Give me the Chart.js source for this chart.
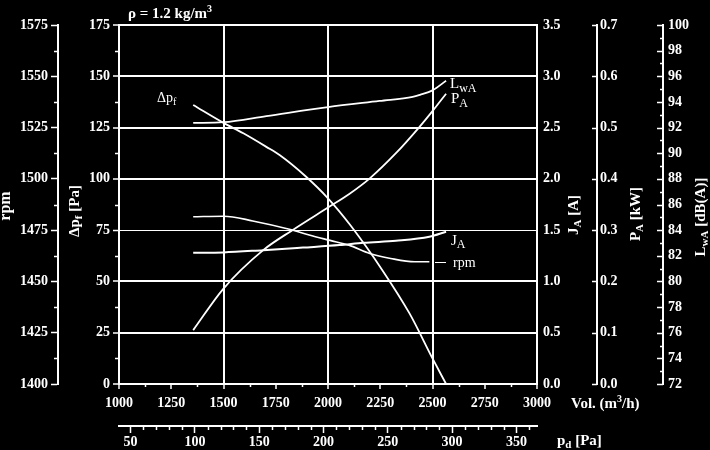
<!DOCTYPE html>
<html><head><meta charset="utf-8">
<script src="https://cdn.jsdelivr.net/npm/chart.js@4/dist/chart.umd.min.js"></script>
<style>html,body{margin:0;padding:0;background:#000;}canvas{display:block;}</style>
</head><body>
<canvas id="c" width="710" height="450"></canvas>
<script>
// ---- data (x = volume flow m3/h) ----
const dpVol   = [1355, 1500, 1595, 1705, 1770, 1890, 2000, 2110, 2260, 2390, 2500, 2565];
const dpVals  = [136, 127.3, 122.2, 115.6, 111.5, 101.5, 90.5, 77, 55.5, 34.4, 12.5, 0];
const lwVol   = [1355, 1500, 1705, 2000, 2246, 2405, 2440, 2500, 2565];
const lwVals  = [92.36, 92.42, 92.9, 93.6, 94.08, 94.39, 94.55, 94.9, 95.65];
const paVol   = [1355, 1500, 1690, 1830, 2000, 2100, 2200, 2325, 2435, 2500, 2565];
const paVals  = [0.105, 0.186, 0.261, 0.300, 0.344, 0.370, 0.401, 0.450, 0.500, 0.532, 0.566];
const jaVol   = [1355, 1500, 1690, 1880, 2055, 2170, 2325, 2485, 2565];
const jaVals  = [1.28, 1.283, 1.305, 1.33, 1.354, 1.377, 1.396, 1.435, 1.484];
const rpmVol  = [1355, 1500, 1640, 1820, 1910, 2010, 2100, 2200, 2300, 2415, 2485];
const rpmVals = [1481.5, 1481.8, 1479.5, 1475.3, 1472.6, 1470, 1467.7, 1463.6, 1461.2, 1459.6, 1459.6];

// ---- tick values ----
const pdTicks      = [50, 100, 150, 200, 250, 300, 350];
const pdMinor      = [60,70,80,90,110,120,130,140,160,170,180,190,210,220,230,240,260,270,280,290,310,320,330,340,360];
const volMinor     = [1125, 1375, 1625, 1875, 2125, 2375, 2625, 2875];
const rpmMinor     = [1412.5, 1437.5, 1462.5, 1487.5, 1512.5, 1537.5, 1562.5];
const dpMinor      = [12.5, 37.5, 62.5, 87.5, 112.5, 137.5, 162.5];
const paMajor      = [0, 0.1, 0.2, 0.3, 0.4, 0.5, 0.6, 0.7];
const lwMajor      = [72,74,76,78,80,82,84,86,88,90,92,94,96,98,100];
const lwMinor      = [73,75,77,79,81,83,85,87,89,91,93,95,97,99];

const FONT = '"Liberation Serif", "Times New Roman", serif';
const W = '#ffffff';
const tickFont = {family: FONT, size: 14, weight: 'bold'};
const pts = (xs, ys) => xs.map((x, i) => ({x: x, y: ys[i]}));

function runs(ctx, list, x, y, align) {
  let w = 0;
  list.forEach(r => { ctx.font = (r.b ? 'bold ' : '') + r.s + 'px ' + FONT; r.w = ctx.measureText(r.t).width; w += r.w; });
  let cx = align === 'center' ? x - w / 2 : x;
  list.forEach(r => { ctx.font = (r.b ? 'bold ' : '') + r.s + 'px ' + FONT; ctx.fillText(r.t, cx, y + (r.dy || 0)); cx += r.w; });
}
function vrun(ctx, list, bx, cy) {
  ctx.save(); ctx.translate(bx, cy); ctx.rotate(-Math.PI / 2);
  runs(ctx, list, 0, 0, 'center'); ctx.restore();
}

const deco = {
  id: 'deco',
  beforeDraw(chart) {
    const c = chart.ctx; c.save(); c.fillStyle = '#000'; c.fillRect(0, 0, chart.width, chart.height); c.restore();
  },
  afterDraw(chart) {
    const c = chart.ctx, S = chart.scales;
    c.save();
    c.strokeStyle = W; c.lineWidth = 1.5;
    const hTicks = (s, vals, x0, len) => vals.forEach(v => { const y = Math.round(s.getPixelForValue(v)) + 0.5; c.beginPath(); c.moveTo(x0, y); c.lineTo(x0 - len, y); c.stroke(); });
    const vTicks = (s, vals, y0, len) => vals.forEach(v => { const x = Math.round(s.getPixelForValue(v)) + 0.5; c.beginPath(); c.moveTo(x, y0); c.lineTo(x, y0 + len); c.stroke(); });
    hTicks(S.rpm, rpmMinor, S.rpm.right, 4);
    hTicks(S.dp, dpMinor, S.dp.right, 4);
    hTicks(S.pa, paMajor, S.pa.left, 5);
    hTicks(S.lw, lwMajor, S.lw.left, 6);
    hTicks(S.lw, lwMinor, S.lw.left, 3);
    vTicks(S.x, volMinor, S.x.top, 3);
    vTicks(S.xp, pdMinor, S.xp.top, 4);

    c.fillStyle = W; c.textBaseline = 'alphabetic';
    // header
    runs(c, [{t: 'ρ = 1.2 kg/m', s: 15, b: 1}, {t: '3', s: 10, b: 1, dy: -6}], 128, 18, 'left');
    // axis titles
    vrun(c, [{t: 'rpm', s: 16, b: 1}], 10, 206);
    vrun(c, [{t: 'Δp', s: 15, b: 1}, {t: 'f', s: 11, b: 1, dy: 3}, {t: ' [Pa]', s: 15, b: 1}], 79, 211);
    vrun(c, [{t: 'J', s: 15, b: 1}, {t: 'A', s: 11, b: 1, dy: 3}, {t: ' [A]', s: 15, b: 1}], 578, 215);
    vrun(c, [{t: 'P', s: 15, b: 1}, {t: 'A', s: 11, b: 1, dy: 3}, {t: ' [kW]', s: 15, b: 1}], 640, 214);
    vrun(c, [{t: 'L', s: 15, b: 1}, {t: 'wA', s: 11, b: 1, dy: 3}, {t: ' [dB(A)]', s: 15, b: 1}], 705, 217);
    runs(c, [{t: 'Vol. (m', s: 15, b: 1}, {t: '3', s: 10, b: 1, dy: -6}, {t: '/h)', s: 15, b: 1}], 571, 408, 'left');
    runs(c, [{t: 'p', s: 15, b: 1}, {t: 'd', s: 11, b: 1, dy: 3}, {t: ' [Pa]', s: 15, b: 1}], 557, 445, 'left');
    // curve labels
    runs(c, [{t: 'Δp', s: 14}, {t: 'f', s: 10, dy: 3}], 157, 102, 'left');
    runs(c, [{t: 'L', s: 15}, {t: 'wA', s: 12, dy: 4}], 450, 88, 'left');
    runs(c, [{t: 'P', s: 15}, {t: 'A', s: 12, dy: 4}], 451, 103, 'left');
    runs(c, [{t: 'J', s: 15}, {t: 'A', s: 12, dy: 3}], 451, 245, 'left');
    runs(c, [{t: 'rpm', s: 14}], 453, 267, 'left');
    c.lineWidth = 1; c.beginPath(); c.moveTo(435, 262.5); c.lineTo(446, 262.5); c.stroke();
    c.restore();
  }
};

const line = (data, yAxisID, bw) => ({data: data, yAxisID: yAxisID, xAxisID: 'x', borderColor: W, borderWidth: bw || 1.8,
  pointRadius: 0, fill: false, cubicInterpolationMode: 'monotone'});

new Chart(document.getElementById('c'), {
  type: 'line',
  data: {datasets: [
    line(pts(dpVol, dpVals), 'dp'),
    line(pts(lwVol, lwVals), 'lw'),
    line(pts(paVol, paVals), 'pa'),
    line(pts(jaVol, jaVals), 'ja', 2),
    line(pts(rpmVol, rpmVals), 'rpm', 1.6)
  ]},
  options: {
    responsive: false, animation: false, devicePixelRatio: 1,
    layout: {padding: {top: 25, left: 0, right: 0, bottom: 0}},
    plugins: {legend: {display: false}, tooltip: {enabled: false}},
    scales: {
      x: {type: 'linear', position: 'bottom', weight: 0, min: 1000, max: 3000,
        ticks: {stepSize: 250, color: W, font: tickFont, padding: 6, maxRotation: 0, autoSkip: false, callback: v => String(v)},
        grid: {color: c => (c.tick && c.tick.value % 500 === 0) ? W : 'rgba(0,0,0,0)', lineWidth: 2, tickColor: W, tickLength: 5, tickWidth: 1.5},
        border: {color: W, width: 2},
        afterFit: s => { s.height = 42; }},
      xp: {type: 'linear', position: 'bottom', weight: 1, min: 41, max: 366,
        afterBuildTicks: s => { s.ticks = pdTicks.map(v => ({value: v})); },
        ticks: {color: W, font: tickFont, padding: 1, maxRotation: 0, autoSkip: false, callback: v => String(v)},
        grid: {drawOnChartArea: false, tickColor: W, tickLength: 7, tickWidth: 1.5},
        border: {color: W, width: 2},
        afterFit: s => { s.height = 24; }},
      rpm: {type: 'linear', position: 'left', weight: 2, min: 1400, max: 1575,
        ticks: {stepSize: 25, color: W, font: tickFont, padding: 3, callback: v => String(v)},
        grid: {drawOnChartArea: false, tickColor: W, tickLength: 7, tickWidth: 1.5},
        border: {color: W, width: 2},
        afterFit: s => { s.width = 58; }},
      dp: {type: 'linear', position: 'left', weight: 1, min: 0, max: 175,
        ticks: {stepSize: 25, color: W, font: tickFont, padding: 3, callback: v => String(v)},
        grid: {color: W, lineWidth: c => (c.tick && c.tick.value === 75) ? 1 : 2, tickColor: W, tickLength: 6, tickWidth: 1.5},
        border: {color: W, width: 2},
        afterFit: s => { s.width = 61; }},
      ja: {type: 'linear', position: 'right', weight: 0, min: 0, max: 3.5,
        ticks: {stepSize: 0.5, color: W, font: tickFont, padding: 6, callback: v => v.toFixed(1)},
        grid: {drawOnChartArea: false, drawTicks: false},
        border: {color: W, width: 2},
        afterFit: s => { s.width = 60; }},
      pa: {type: 'linear', position: 'right', weight: 1, min: 0, max: 0.7,
        ticks: {stepSize: 0.1, color: W, font: tickFont, padding: 3, callback: v => v.toFixed(1)},
        grid: {drawOnChartArea: false, drawTicks: false},
        border: {color: W, width: 2},
        afterFit: s => { s.width = 66; }},
      lw: {type: 'linear', position: 'right', weight: 2, min: 72, max: 100,
        ticks: {stepSize: 2, color: W, font: tickFont, padding: 5, callback: v => String(v)},
        grid: {drawOnChartArea: false, drawTicks: false},
        border: {color: W, width: 2},
        afterFit: s => { s.width = 47; }}
    }
  },
  plugins: [deco]
});
</script>
</body></html>
